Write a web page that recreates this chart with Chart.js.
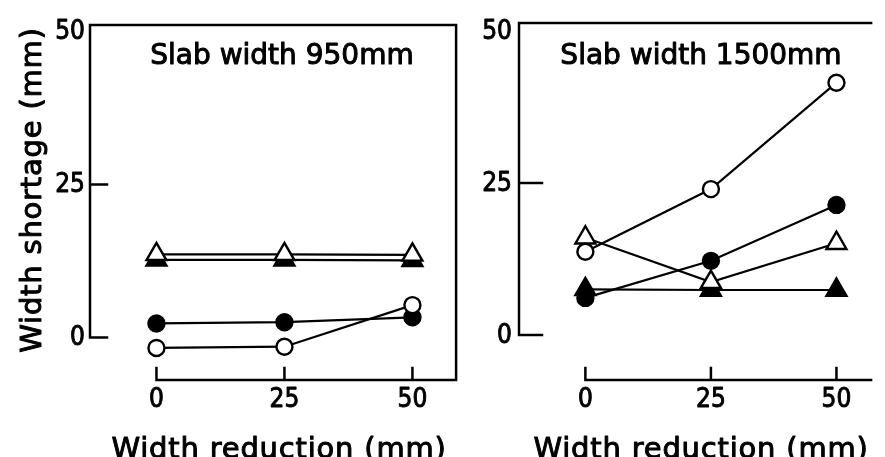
<!DOCTYPE html>
<html>
<head>
<meta charset="utf-8">
<script src="https://cdn.jsdelivr.net/npm/chart.js@4"></script>
<style>
  body { margin: 0; background: #fff; }
  #wrap { position: relative; width: 885px; height: 457px; overflow: hidden; background: #fff; }
  canvas { position: absolute; top: 0; }
</style>
</head>
<body>
<div id="wrap">
  <canvas id="chart-950" width="470" height="457" style="left:0"></canvas>
  <canvas id="chart-1500" width="415" height="457" style="left:470px"></canvas>
</div>
<script>
// ---------------- data ----------------
const reductions = [0, 25, 50];          // width reduction (mm)
const yTicks = [0, 25, 50];              // width shortage ticks (mm)

// slab width 950mm
const openCircle950 = [-1.7, -1.5, 5.3];
const filledCircle950 = [2.3, 2.5, 3.3];
const openTriangle950 = [13.6, 13.6, 13.5];
const filledTriangle950 = [12.7, 12.7, 12.6];

// slab width 1500mm
const openCircle1500 = [13.7, 24.0, 41.5];
const filledCircle1500 = [6.1, 12.2, 21.4];
const openTriangle1500 = [16.0, 8.7, 15.1];
const filledTriangle1500 = [7.5, 7.4, 7.4];

const tickFont = '26px "Liberation Sans Narrow", "DejaVu Sans Condensed", sans-serif';
const textFont = '"DejaVu Sans", sans-serif';

// ---------------- helpers ----------------
const toPoints = (values) => values.map((v, i) => ({ x: reductions[i], y: v }));

const makeSeries = (values, style, filled) => ({
  data: toPoints(values),
  borderColor: '#000',
  borderWidth: 2.2,
  pointStyle: style,
  pointRadius: style === 'triangle' ? 11.5 : 8,
  pointBorderWidth: 2.4,
  pointBorderColor: '#000',
  pointBackgroundColor: filled ? '#000' : '#fff',
  tension: 0,
  clip: false
});

// filled text with a thin outline, so the strokes come out heavier
const heavyText = (ctx, str, x, y, weight) => {
  ctx.lineWidth = weight;
  ctx.strokeStyle = '#000';
  ctx.lineJoin = 'round';
  ctx.strokeText(str, x, y);
  ctx.fillText(str, x, y);
};

// frame: top line, left spine down to the zero tick, bottom line from x = 0
const frameLines = {
  id: 'frameLines',
  beforeDatasetsDraw(chart, args, opts) {
    const { ctx, chartArea: a, scales: { x, y } } = chart;
    const y0 = y.getPixelForValue(0);
    const x0 = x.getPixelForValue(0);
    ctx.save();
    ctx.strokeStyle = '#000';
    ctx.lineWidth = 2.5;
    ctx.lineCap = 'square';
    ctx.beginPath();
    ctx.moveTo(a.left, y0);
    ctx.lineTo(a.left, a.top);
    ctx.lineTo(a.right, a.top);
    if (opts.closeRight) {
      ctx.lineTo(a.right, a.bottom);
    }
    ctx.moveTo(x0, a.bottom);
    ctx.lineTo(a.right, a.bottom);
    // inward ticks on the left spine (none at the top corner)
    yTicks.filter(t => t < 50).forEach(t => {
      const py = y.getPixelForValue(t);
      ctx.moveTo(a.left, py);
      ctx.lineTo(a.left + opts.yTickLen, py);
    });
    reductions.forEach(t => {
      const px = x.getPixelForValue(t);
      ctx.moveTo(px, a.bottom);
      ctx.lineTo(px, a.bottom - 12);
    });
    ctx.stroke();
    ctx.restore();
  }
};

// tick labels, panel title and axis titles
const panelText = {
  id: 'panelText',
  afterDraw(chart, args, opts) {
    const { ctx, chartArea: a, scales: { x, y } } = chart;
    ctx.save();
    ctx.fillStyle = '#000';

    ctx.font = tickFont;
    ctx.textAlign = 'right';
    ctx.textBaseline = 'middle';
    yTicks.forEach(t => {
      heavyText(ctx, String(t), a.left - opts.labelGap, y.getPixelForValue(t) + 1, 0.9);
    });
    ctx.textAlign = 'center';
    reductions.forEach(t => {
      heavyText(ctx, String(t), x.getPixelForValue(t), a.bottom + 20, 0.9);
    });

    ctx.font = '28px ' + textFont;
    ctx.textBaseline = 'alphabetic';
    heavyText(ctx, opts.title, opts.titleX, 64, 1);

    ctx.font = '29px ' + textFont;
    ctx.letterSpacing = '0.8px';
    heavyText(ctx, 'Width reduction (mm)', opts.xTitleX, 458, 1);

    if (opts.yTitle) {
      ctx.translate(41, 190);
      ctx.rotate(-Math.PI / 2);
      heavyText(ctx, opts.yTitle, 0, 0, 1);
    }
    ctx.restore();
  }
};

const buildPanel = (canvasId, panel) => new Chart(document.getElementById(canvasId), {
  type: 'line',
  data: {
    datasets: [
      makeSeries(panel.openCircle, 'circle', false),
      makeSeries(panel.openTriangle, 'triangle', false),
      makeSeries(panel.filledTriangle, 'triangle', true),
      makeSeries(panel.filledCircle, 'circle', true)
    ]
  },
  options: {
    responsive: false,
    animation: false,
    devicePixelRatio: 1,
    layout: { padding: panel.padding },
    scales: {
      x: { type: 'linear', display: false, min: panel.xMin, max: panel.xMax },
      y: { type: 'linear', display: false, min: panel.yMin, max: panel.yMax }
    },
    plugins: {
      legend: { display: false },
      tooltip: { enabled: false },
      frameLines: { closeRight: panel.closeRight, yTickLen: panel.yTickLen },
      panelText: {
        title: panel.title,
        titleX: panel.titleX,
        xTitleX: panel.xTitleX,
        yTitle: panel.yTitle,
        labelGap: panel.labelGap
      }
    }
  },
  plugins: [frameLines, panelText]
});

// -------- left panel: slab width 950mm --------
buildPanel('chart-950', {
  openCircle: openCircle950,
  filledCircle: filledCircle950,
  openTriangle: openTriangle950,
  filledTriangle: filledTriangle950,
  padding: { left: 90, top: 25, right: 11, bottom: 77 },
  xMin: -12.98, xMax: 58.53,
  yMin: -6.94, yMax: 51.06,
  closeRight: true,
  yTickLen: 17,
  labelGap: 5,
  title: 'Slab width 950mm',
  titleX: 282,
  xTitleX: 279,
  yTitle: 'Width shortage (mm)'
});

// -------- right panel: slab width 1500mm --------
buildPanel('chart-1500', {
  openCircle: openCircle1500,
  filledCircle: filledCircle1500,
  openTriangle: openTriangle1500,
  filledTriangle: filledTriangle1500,
  padding: { left: 49, top: 23, right: 0, bottom: 77 },
  xMin: -13.22, xMax: 56.9,
  yMin: -7.4, yMax: 51.32,
  closeRight: false,
  yTickLen: 23,
  labelGap: 7,
  title: 'Slab width 1500mm',
  titleX: 231,
  xTitleX: 231,
  yTitle: null
});
</script>
</body>
</html>
